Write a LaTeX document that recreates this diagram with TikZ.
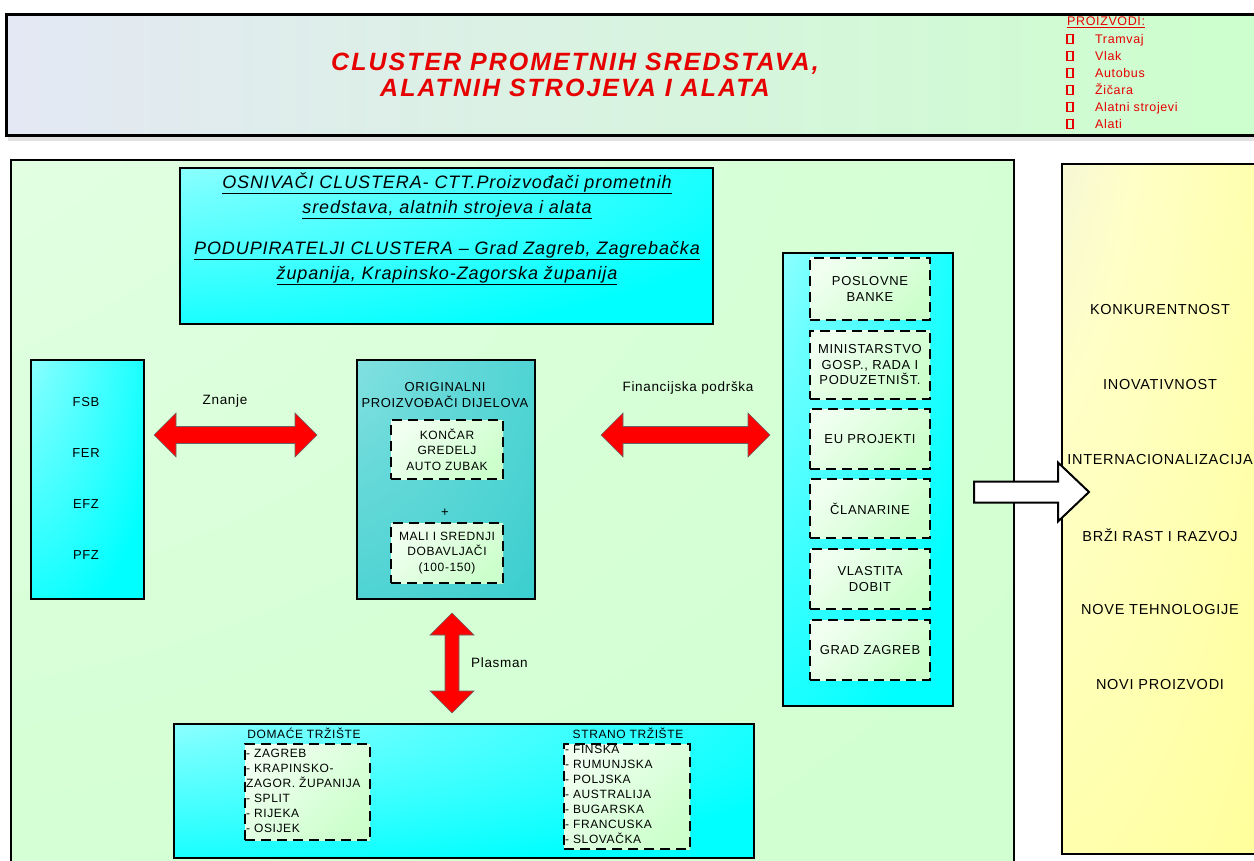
\documentclass[tikz,border=0pt]{standalone}
\usepackage{fontspec}
\setmainfont{Liberation Sans}[LetterSpace=5]
\definecolor{clustergreen}{RGB}{204,255,204}
\definecolor{clusterblue}{RGB}{228,232,244}
\definecolor{clustercyan}{RGB}{0,255,255}
\definecolor{clusterteal}{RGB}{51,204,204}
\definecolor{clusteryellow}{RGB}{255,255,153}
\definecolor{clusterred}{RGB}{230,0,0}
% corner glows (light in the top left corner)
\pgfdeclareradialshading{cyanglow}{\pgfpoint{-50bp}{50bp}}{color(0bp)=(white); color(30bp)=(clustercyan!55!white); color(65bp)=(clustercyan); color(160bp)=(clustercyan)}
\pgfdeclareradialshading{tealglow}{\pgfpoint{-50bp}{50bp}}{color(0bp)=(clusterteal!40!white); color(40bp)=(clusterteal!75!white); color(80bp)=(clusterteal); color(160bp)=(clusterteal)}
\pgfdeclareradialshading{greenglow}{\pgfpoint{-50bp}{50bp}}{color(0bp)=(clustergreen!35!white); color(50bp)=(clustergreen!80!white); color(90bp)=(clustergreen); color(160bp)=(clustergreen)}
\pgfdeclareradialshading{yellowglow}{\pgfpoint{-50bp}{50bp}}{color(0bp)=(clusterblue); color(35bp)=(clusteryellow!55!white); color(75bp)=(clusteryellow); color(160bp)=(clusteryellow)}

\begin{document}
\begin{tikzpicture}[x=1pt, y=-1pt,
    boxframe/.style={draw, line width=2pt, inner sep=0pt},
    cyanbox/.style={boxframe, shading=cyanglow},
    dashbox/.style={draw, line width=2.2pt, dash pattern=on 10pt off 6pt, top color=clustergreen!30!white, bottom color=clustergreen, shading angle=45, inner sep=0pt},
    txt/.style={font=\fontsize{13}{15.5}\selectfont, align=center, inner sep=0pt},
    listtxt/.style={font=\fontsize{12}{15}\selectfont, align=left, inner sep=0pt},
    goaltxt/.style={font=\fontsize{14.5}{17}\selectfont, inner sep=0pt},
    redtxt/.style={font=\fontsize{12.5}{14}\selectfont, text=clusterred, inner sep=0pt},
    % red double arrow: half length, half shaft width
    pics/dblarrow/.style n args={2}{code={
        \draw[draw=black!60, line width=0.6pt, fill=red] (-#1,0) -- (-#1+22,-22) -- (-#1+22,-#2) -- (#1-22,-#2) -- (#1-22,-22) -- (#1,0)
            -- (#1-22,22) -- (#1-22,#2) -- (-#1+22,#2) -- (-#1+22,22) -- cycle;
    }},
    % white block arrow
    pics/blockarrow/.style={code={
        \draw[line width=2pt, fill=white] (-57.5,-10.5) -- (26.5,-10.5) -- (26.5,-29.5) -- (57.5,0) -- (26.5,29.5) -- (26.5,10.5) -- (-57.5,10.5) -- cycle;
    }}
]
    \useasboundingbox (0,0) rectangle (1254,861);

    % Header
    \fill[black!12] (8,136) rectangle (1254,141);
    \node[boxframe, line width=3pt, left color=clusterblue, middle color=clustergreen!80!white, right color=clustergreen, minimum width=1262, minimum height=121, anchor=north west] (header) at (5,13) {};
    \node[align=center, inner sep=0pt, text=clusterred, font=\fontsize{25}{26}\selectfont\bfseries\itshape\addfontfeatures{LetterSpace=8}] (title) at (575,75) {CLUSTER PROMETNIH SREDSTAVA,\\ALATNIH STROJEVA I ALATA};
    \node[redtxt, anchor=base west] (products) at (1067,25.5) {\underline{PROIZVODI:}};
    \foreach \pname [count=\i] in {Tramvaj, Vlak, Autobus, Žičara, Alatni strojevi, Alati} {
        \node[draw=clusterred, line width=1.4pt, minimum width=6, minimum height=9, inner sep=0pt] (bullet\i) at (1070,{22+17*\i}) {};
        \node[redtxt, anchor=base west] (product\i) at (1095,{26.5+17*\i}) {\pname};
    }

    % Cluster panel
    \node[boxframe, shading=greenglow, minimum width=1003, minimum height=730, anchor=north west] (cluster) at (10,159) {};
    \node[cyanbox, minimum width=533, minimum height=156, anchor=north west] (foundersbox) at (179,167) {};
    \node[txt, font=\fontsize{18}{25}\selectfont\itshape] (founders) at (447,196) {\underline{OSNIVAČI CLUSTERA- CTT.Proizvođači prometnih}\\\underline{sredstava, alatnih strojeva i alata}};
    \node[txt, font=\fontsize{18}{25}\selectfont\itshape] (supporters) at (447,263) {\underline{PODUPIRATELJI CLUSTERA -- Grad Zagreb, Zagrebačka}\\\underline{županija, Krapinsko-Zagorska županija}};

    % Faculties
    \node[cyanbox, minimum width=113, minimum height=239, anchor=north west] (faculties) at (30,359) {};
    \foreach \fac/\y in {FSB/402, FER/453, EFZ/504, PFZ/555}
        \node[txt] (\fac) at (86,\y) {\fac};

    % Manufacturers
    \node[boxframe, shading=tealglow, minimum width=178, minimum height=239, anchor=north west] (oem) at (356,359) {};
    \node[txt, font=\fontsize{13}{16}\selectfont] (oemtitle) at (445,395) {ORIGINALNI\\PROIZVOĐAČI DIJELOVA};
    \node[dashbox, txt, font=\fontsize{12}{15.5}\selectfont, minimum width=112, minimum height=59] (bigthree) at (447,449.5) {KONČAR\\GREDELJ\\AUTO ZUBAK};
    \node[txt] (plus) at (445,513) {+};
    \node[dashbox, txt, font=\fontsize{12}{15.5}\selectfont, minimum width=112, minimum height=60] (suppliers) at (447,553) {MALI I SREDNJI\\DOBAVLJAČI\\(100-150)};

    % Red arrows
    \node[txt, font=\fontsize{13.5}{16}\selectfont] (knowledge) at (225,401) {Znanje};
    \pic (knowarrow) at (235.5,435) {dblarrow={81.5}{8.5}};
    \node[txt, font=\fontsize{13.5}{16}\selectfont] (funding) at (688,388) {Financijska podrška};
    \pic (fundarrow) at (685.5,435) {dblarrow={84.5}{8.5}};
    \pic[rotate=90] (salesarrow) at (452,663) {dblarrow={50}{7}};
    \node[txt, font=\fontsize{13.5}{16}\selectfont, anchor=west] (sales) at (471,663) {Plasman};

    % Funding sources
    \node[cyanbox, minimum width=170, minimum height=453, anchor=north west] (sources) at (782,252) {};
    \node[dashbox, txt, minimum width=120, minimum height=62] (banks) at (870,289) {POSLOVNE\\BANKE};
    \node[dashbox, txt, minimum width=120, minimum height=68] (ministry) at (870,365) {MINISTARSTVO\\GOSP., RADA I\\PODUZETNIŠT.};
    \node[dashbox, txt, minimum width=120, minimum height=60] (euprojects) at (870,439) {EU PROJEKTI};
    \node[dashbox, txt, minimum width=120, minimum height=59] (fees) at (870,508.5) {ČLANARINE};
    \node[dashbox, txt, minimum width=120, minimum height=60] (profit) at (870,579) {VLASTITA\\DOBIT};
    \node[dashbox, txt, minimum width=120, minimum height=60] (city) at (870,650) {GRAD ZAGREB};

    % Markets
    \node[cyanbox, minimum width=580, minimum height=134, anchor=north west] (markets) at (173,723) {};
    \node[listtxt] (domtitle) at (304,733) {DOMAĆE TRŽIŠTE};
    \node[dashbox, minimum width=125, minimum height=96, anchor=north west] (domestic) at (244,743) {};
    \node[listtxt, anchor=north west] (domlist) at (246,748.5) {- ZAGREB\\- KRAPINSKO-\\ZAGOR. ŽUPANIJA\\- SPLIT\\- RIJEKA\\- OSIJEK};
    \node[listtxt] (fortitle) at (628,733) {STRANO TRŽIŠTE};
    \node[dashbox, minimum width=126, minimum height=105, anchor=north west] (foreign) at (563,743) {};
    \node[listtxt, anchor=north west] (forlist) at (565,744.7) {- FINSKA\\- RUMUNJSKA\\- POLJSKA\\- AUSTRALIJA\\- BUGARSKA\\- FRANCUSKA\\- SLOVAČKA};

    % Results
    \node[boxframe, shading=yellowglow, minimum width=201, minimum height=690, anchor=north west] (results) at (1061,163) {};
    \foreach \lbl [count=\i from 0] in {KONKURENTNOST, INOVATIVNOST, INTERNACIONALIZACIJA, BRŽI RAST I RAZVOJ, NOVE TEHNOLOGIJE, NOVI PROIZVODI}
        \node[goaltxt] (goal\i) at (1160,{310+75*\i}) {\lbl};
    \pic (outcome) at (1031.5,492) {blockarrow};
\end{tikzpicture}
\end{document}
